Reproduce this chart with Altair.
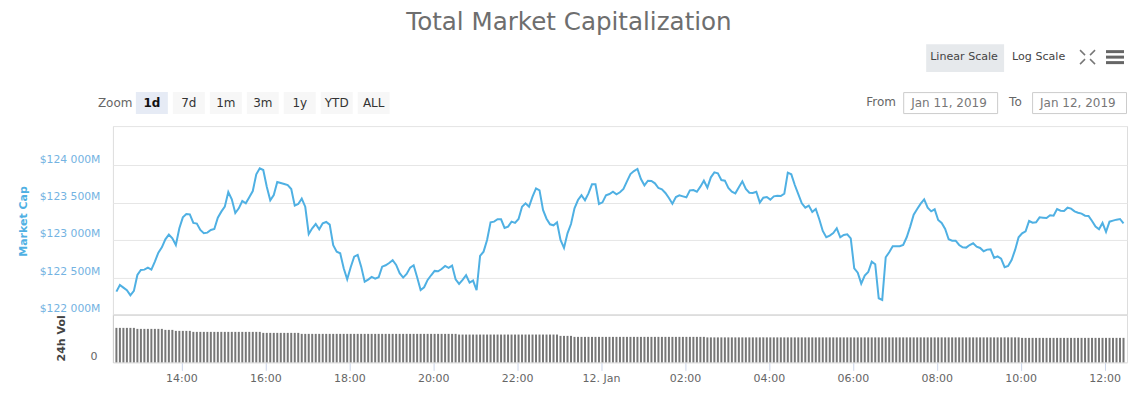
import altair as alt
import pandas as pd

# Five-minute samples of total market cap, in $ millions
START = "2019-01-11 12:27"
CAP = [
122311,122400,122364,122329,122262,122320,122533,122600,122604,122631,122604,122711,122831,122902,123009,123071,123022,122933,123156,123302,
123347,123342,123227,123218,123133,123089,123098,123133,123147,123298,123378,123444,123640,123542,123360,123422,123520,123489,123569,123653,
123876,123956,123933,123711,123529,123600,123773,123760,123747,123733,123680,123458,123480,123551,123444,123080,123156,123213,123142,123222,
123240,123204,122929,122844,122822,122622,122476,122636,122778,122800,122644,122444,122471,122507,122484,122502,122644,122662,122693,122729,
122667,122556,122498,122547,122631,122662,122502,122333,122369,122467,122529,122587,122582,122613,122653,122627,122658,122476,122413,122467,
122529,122431,122458,122329,122787,122844,123000,123236,123244,123276,123276,123160,123178,123244,123227,123280,123444,123489,123444,123578,
123689,123662,123400,123284,123209,123196,123236,123000,122893,123089,123213,123422,123533,123596,123529,123622,123742,123742,123480,123502,
123596,123613,123644,123609,123636,123680,123782,123880,123920,123947,123813,123729,123791,123787,123756,123693,123676,123627,123560,123484,
123573,123596,123582,123569,123662,123667,123644,123711,123791,123698,123836,123902,123889,123800,123791,123693,123644,123622,123702,123782,
123680,123631,123627,123644,123498,123564,123573,123538,123582,123591,123587,123618,123898,123876,123733,123613,123489,123431,123458,123373,
123413,123276,123120,123036,123058,123093,123156,123036,123067,123076,123022,122622,122564,122418,122524,122573,122711,122676,122222,122200,
122769,122836,122916,122916,122916,122933,123036,123178,123338,123413,123484,123542,123431,123382,123409,123267,123227,123147,123009,122991,
122991,122933,122902,122898,122933,122956,122911,122893,122849,122871,122876,122760,122782,122751,122636,122653,122733,122867,123036,123089,
123116,123253,123231,123236,123302,123298,123293,123329,123324,123413,123391,123387,123431,123418,123382,123364,123351,123324,123320,123253,
123178,123142,123227,123107,123244,123258,123271,123280,123222,
]
# 24h volume in $ billions, as runs of equal-looking bars
VOL_LEVELS = [20.7, 20.1, 19.5, 18.9, 18.3, 17.7, 17.1, 16.7, 15.9, 15.3, 15.0, 14.7]
VOL_RUNS = [6, 8, 3, 5, 20, 11, 45, 29, 4, 38, 90, 30]
Y_TICKS = [122000, 122500, 123000, 123500, 124000, 124520]
X_TICK_TIMES = ["2019-01-11 14:00", "2019-01-11 16:00", "2019-01-11 18:00", "2019-01-11 20:00",
                "2019-01-11 22:00", "2019-01-12 00:00", "2019-01-12 02:00", "2019-01-12 04:00",
                "2019-01-12 06:00", "2019-01-12 08:00", "2019-01-12 10:00", "2019-01-12 12:00"]
ZOOM_BUTTONS = ["1d", "7d", "1m", "3m", "1y", "YTD", "ALL"]


def ms(s):
    return int(pd.Timestamp(s, tz="UTC").value // 10**6)


vol = []
for level, run in zip(VOL_LEVELS, VOL_RUNS):
    vol += [level] * run
vol = (vol + [VOL_LEVELS[-1]] * 289)[:289]
times = [ms(START) + i * 300000 for i in range(len(CAP))]
df = pd.DataFrame({"t": times, "cap": CAP, "vol": vol})

FONT = "DejaVu Sans"
BLUE = "#4fb0e3"
LBL_BLUE = "#74b3e2"
GRAY = "#666666"
GRID = "#e6e6e6"
X_DOMAIN = [ms("2019-01-11 12:22"), ms("2019-01-12 12:32")]
PW, PH, VH = 1015, 189, 47.5
L, T = 113, 126  # page position of the main plot's corner

one = alt.Data(values=[{}])


def text(s, sx, sy, size=12, color=GRAY, align="left", weight="normal"):
    return alt.Chart(one).mark_text(text=s, font=FONT, fontSize=size, color=color, align=align,
                                    baseline="middle", fontWeight=weight).encode(
        x=alt.value(sx - L), y=alt.value(sy - T))


def box(x0, x1, y0, y1, fill="transparent", stroke=None):
    kw = {"stroke": stroke, "strokeWidth": 1} if stroke else {}
    return alt.Chart(one).mark_rect(fill=fill, **kw).encode(
        x=alt.value(x0 - L), x2=alt.value(x1 - L), y=alt.value(y0 - T), y2=alt.value(y1 - T))


def seg(x0, y0, x1, y1):
    return alt.Chart(one).mark_rule(color="#777777", strokeWidth=1.5).encode(
        x=alt.value(x0 - L), x2=alt.value(x1 - L), y=alt.value(y0 - T), y2=alt.value(y1 - T))


chrome = [
    alt.Chart(one).mark_rect(opacity=0).encode(
        x=alt.value(9 - L), x2=alt.value(1129 - L), y=alt.value(9 - T), y2=alt.value(0)),
    text("Total Market Capitalization", 569.5, 23, size=24.6, color="#6e6e6e", align="center"),
    box(927, 1005, 44, 72, fill="#e6e9ec"),
    text("Linear Scale", 931, 57, size=11.1, color="#444444"),
    text("Log Scale", 1013, 57, size=11.1, color="#444444"),
    seg(1081, 50, 1086, 55), seg(1096, 50, 1091, 55), seg(1081, 64, 1086, 59), seg(1096, 64, 1091, 59),
    box(1107, 1125, 50, 53, fill="#666666"), box(1107, 1125, 55.5, 58.5, fill="#666666"),
    box(1107, 1125, 61, 64, fill="#666666"),
    text("Zoom", 98, 103),
    text("From", 867, 102),
    box(904.5, 998.5, 92.5, 113.5, fill="white", stroke="#cccccc"),
    text("Jan 11, 2019", 912, 102.5, color="#777777"),
    text("To", 1010, 102),
    box(1033.5, 1127.5, 92.5, 113.5, fill="white", stroke="#cccccc"),
    text("Jan 12, 2019", 1041, 102.5, color="#777777"),
]
for i, label in enumerate(ZOOM_BUTTONS):
    x0 = 136 + i * 37
    sel = i == 0
    chrome.append(box(x0, x0 + 32, 92, 114, fill="#e6ebf5" if sel else "#f7f7f7"))
    chrome.append(text(label, x0 + 16, 102.5, size=12, color="#111111" if sel else "#333333", align="center",
                       weight="bold" if sel else "normal"))

x_plain = alt.X("t:T", scale=alt.Scale(type="utc", domain=X_DOMAIN), axis=None)
cap_scale = alt.Scale(domain=[122000, 124520], nice=False, zero=False)
cap_axis = alt.Axis(values=Y_TICKS, title="Market Cap", titleColor=BLUE, titleFont=FONT, titleFontSize=11,
                    titleFontWeight="bold", titleX=-84, titleY=95, titleAlign="center",
                    labelFont=FONT, labelFontSize=10.8, labelColor=LBL_BLUE, labelOffset=-6, labelPadding=13,
                    labelExpr="datum.value > 124400 ? '' : '$' + replace(format(datum.value, ','), ',', ' ') + 'M'",
                    ticks=False, domain=False, gridColor=GRID, gridWidth=1, grid=True)

line = alt.Chart(df).mark_line(color=BLUE, strokeWidth=2, interpolate="linear", clip=False).encode(
    x=x_plain,
    y=alt.Y("cap:Q", scale=cap_scale, axis=cap_axis),
)
base = alt.Chart(alt.Data(values=[{"v": 122000}])).mark_rule(color="#e2e2e2", strokeWidth=2).encode(
    y=alt.Y("v:Q", scale=cap_scale, axis=cap_axis),
    x=alt.value(0), x2=alt.value(PW))

main = alt.layer(*chrome, base, line).properties(width=PW, height=PH)

volume = alt.Chart(df).mark_bar(color="#777777", size=2).encode(
    x=alt.X("t:T", scale=alt.Scale(type="utc", domain=X_DOMAIN, padding=0),
            axis=alt.Axis(values=[ms(s) for s in X_TICK_TIMES], title=None, grid=False,
                          labelFont=FONT, labelFontSize=11, labelColor=GRAY, labelPadding=2, tickSize=8,
                          tickColor="#ccd6eb", domainColor="#e6e6e6",
                          labelExpr="utchours(datum.value) == 0 ? '12. Jan' : utcFormat(datum.value, '%H:%M')")),
    y=alt.Y("vol:Q", scale=alt.Scale(domain=[0, 28.5], nice=False),
            axis=alt.Axis(values=[0], title="24h Vol", titleColor="#444444", titleFont=FONT, titleFontSize=11,
                          titleFontWeight="bold", titleX=-46.5, titleY=23, titleAlign="center",
                          labelFont=FONT, labelFontSize=11, labelColor=GRAY, labelOffset=-6, labelPadding=16,
                          ticks=False, domainColor="#cccccc", grid=False)),
).properties(width=PW, height=VH)

chart = alt.vconcat(main, volume, spacing=0, bounds="flush").resolve_scale(x="independent", y="independent").properties(
    padding=0).configure_view(stroke="transparent").configure(background="white")

chart.save("out.html", embed_options={"renderer": "svg", "actions": False})
